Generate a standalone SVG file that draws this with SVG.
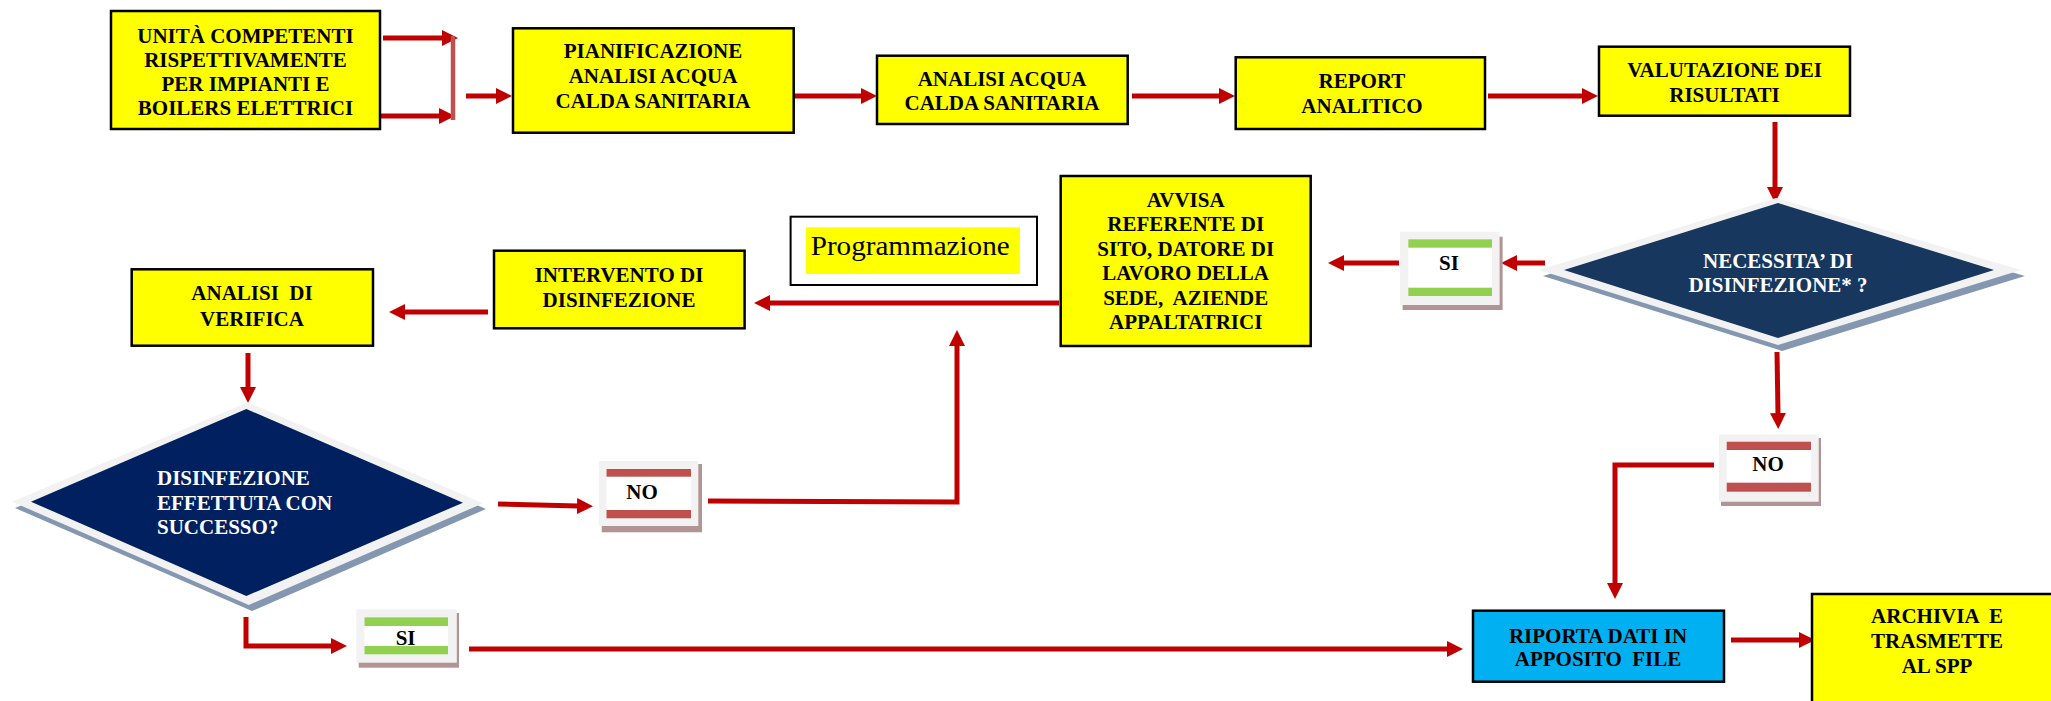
<svg xmlns="http://www.w3.org/2000/svg" width="2051" height="701" viewBox="0 0 2051 701">
<style>
.box{fill:#ffff00;stroke:#000;stroke-width:2.5}
.blue{fill:#00b0f0;stroke:#000;stroke-width:2.5}
.t{font-family:"Liberation Serif","Times New Roman",serif;font-weight:bold;font-size:21px;fill:#000;text-anchor:middle}
.w{fill:#fff}
.c{fill:none;stroke:#c00000;stroke-width:5}
.lblo{fill:#f2f2f2}
.lbls{fill:#b39494}
.lbli{fill:#fff}
.g{fill:#92d050}
.r{fill:#c0504d}
</style>
<defs>
<marker id="ah" viewBox="0 0 16 16" refX="1" refY="8" markerWidth="16" markerHeight="16" markerUnits="userSpaceOnUse" orient="auto">
<path d="M0,0 L16,8 L0,16 z" fill="#c00000"/>
</marker>
</defs>
<rect width="2051" height="701" fill="#fff"/>

<g id="connectors">
<line class="c" x1="383" y1="38" x2="443" y2="38" marker-end="url(#ah)"/>
<line class="c" x1="380" y1="116" x2="440" y2="116" marker-end="url(#ah)"/>
<line x1="453" y1="36" x2="453" y2="120" stroke="#c0504d" stroke-width="4.5"/>
<line class="c" x1="466" y1="96" x2="497" y2="96" marker-end="url(#ah)"/>
<line class="c" x1="794" y1="96" x2="862" y2="96" marker-end="url(#ah)"/>
<line class="c" x1="1132" y1="96" x2="1220" y2="96" marker-end="url(#ah)"/>
<line class="c" x1="1488" y1="96" x2="1583" y2="96" marker-end="url(#ah)"/>
<line class="c" x1="1775" y1="122" x2="1775" y2="188" marker-end="url(#ah)"/>
<line class="c" x1="1545" y1="263" x2="1516" y2="263" marker-end="url(#ah)"/>
<line class="c" x1="1399" y1="263" x2="1343" y2="263" marker-end="url(#ah)"/>
<line class="c" x1="1059" y1="303" x2="769" y2="303" marker-end="url(#ah)"/>
<line class="c" x1="488" y1="312" x2="404" y2="312" marker-end="url(#ah)"/>
<line class="c" x1="248" y1="353" x2="248" y2="388" marker-end="url(#ah)"/>
<line class="c" x1="498" y1="504" x2="578" y2="506" marker-end="url(#ah)"/>
<polyline class="c" points="708,501 957,502 957,345" marker-end="url(#ah)"/>
<polyline class="c" points="246,617 246,646 332,646" marker-end="url(#ah)"/>
<line class="c" x1="469" y1="649" x2="1448" y2="649" marker-end="url(#ah)"/>
<line class="c" x1="1731" y1="640" x2="1800" y2="640" marker-end="url(#ah)"/>
<line class="c" x1="1777" y1="352" x2="1778" y2="414" marker-end="url(#ah)"/>
<polyline class="c" points="1714,465 1615,465 1615,584" marker-end="url(#ah)"/>
</g>

<g id="unita">
<rect class="box" x="111" y="11" width="269" height="118"/>
<text class="t" x="245.5" y="42.7">UNITÀ COMPETENTI</text>
<text class="t" x="245.5" y="66.7">RISPETTIVAMENTE</text>
<text class="t" x="245.5" y="90.7">PER IMPIANTI E</text>
<text class="t" x="245.5" y="115">BOILERS ELETTRICI</text>
</g>

<g id="pianificazione">
<rect class="box" x="513" y="28.3" width="280.7" height="104.4"/>
<text class="t" x="653" y="58.3">PIANIFICAZIONE</text>
<text class="t" x="653" y="83.3">ANALISI ACQUA</text>
<text class="t" x="653" y="108.3">CALDA SANITARIA</text>
</g>

<g id="analisi-acqua">
<rect class="box" x="877" y="55.7" width="250.7" height="68.3"/>
<text class="t" x="1002" y="86">ANALISI ACQUA</text>
<text class="t" x="1002" y="110">CALDA SANITARIA</text>
</g>

<g id="report">
<rect class="box" x="1235.7" y="57.3" width="249.3" height="71.7"/>
<text class="t" x="1362" y="88">REPORT</text>
<text class="t" x="1362" y="112.7">ANALITICO</text>
</g>

<g id="valutazione">
<rect class="box" x="1599" y="46.7" width="251" height="69"/>
<text class="t" x="1724.5" y="77">VALUTAZIONE DEI</text>
<text class="t" x="1724.5" y="101.7">RISULTATI</text>
</g>

<g id="necessita">
<polygon points="1543,276 1780,204 2025,276 1782,351" fill="#8497b0"/>
<polygon points="1539,270 1776,198 2021,270 1778,345" fill="#f2f2f2"/>
<polygon points="1564,270 1778,203 1994,270 1778,338" fill="#17375e"/>
<text class="t w" x="1778" y="268">NECESSITA’ DI</text>
<text class="t w" x="1778" y="291.7">DISINFEZIONE* ?</text>
</g>

<g id="si-top">
<rect class="lbls" x="1402.6" y="236.7" width="100" height="73.3"/>
<rect class="lblo" x="1400" y="231.7" width="99.6" height="73.3"/>
<rect class="lbli" x="1408.3" y="239.3" width="83.7" height="56.7"/>
<rect class="g" x="1408.3" y="239.3" width="83.7" height="8.4"/>
<rect class="g" x="1408.3" y="287.7" width="83.7" height="8.3"/>
<text class="t" x="1449" y="270">SI</text>
</g>

<g id="avvisa">
<rect class="box" x="1060.7" y="176" width="250" height="170"/>
<text class="t" x="1185.7" y="206.7">AVVISA</text>
<text class="t" x="1185.7" y="231">REFERENTE DI</text>
<text class="t" x="1185.7" y="255.7">SITO, DATORE DI</text>
<text class="t" x="1185.7" y="280">LAVORO DELLA</text>
<text class="t" x="1185.7" y="305" xml:space="preserve">SEDE,  AZIENDE</text>
<text class="t" x="1185.7" y="329.3">APPALTATRICI</text>
</g>

<g id="programmazione">
<rect x="790.6" y="216.7" width="246.4" height="68.3" fill="#fff" stroke="#000" stroke-width="2"/>
<rect x="805.8" y="227.3" width="214.2" height="46.7" fill="#ffff00"/>
<text x="810.7" y="255" font-family="Liberation Serif, Times New Roman, serif" font-size="28" fill="#000" textLength="199" lengthAdjust="spacingAndGlyphs">Programmazione</text>
</g>

<g id="intervento">
<rect class="box" x="494" y="250.7" width="250.6" height="77.6"/>
<text class="t" x="619" y="281.7">INTERVENTO DI</text>
<text class="t" x="619" y="306.7">DISINFEZIONE</text>
</g>

<g id="analisi-verifica">
<rect class="box" x="131.7" y="269.3" width="241.3" height="76.4"/>
<text class="t" x="252" y="300" xml:space="preserve">ANALISI  DI</text>
<text class="t" x="252" y="326">VERIFICA</text>
</g>

<g id="disinfezione-effettuata">
<polygon points="15,508 251,408 486,509 252,611" fill="#8497b0"/>
<polygon points="12,501.7 247.8,402.3 483,503.3 248.7,605" fill="#f2f2f2"/>
<polygon points="31,501.7 246.3,409 463,502.7 246.3,596" fill="#002060"/>
<text class="t w" x="157" y="485" text-anchor="start" style="text-anchor:start">DISINFEZIONE</text>
<text class="t w" x="157" y="510" style="text-anchor:start">EFFETTUTA CON</text>
<text class="t w" x="157" y="534" style="text-anchor:start">SUCCESSO?</text>
</g>

<g id="no-left">
<rect class="lbls" x="601.7" y="464" width="100.3" height="68.3"/>
<rect class="lblo" x="598.8" y="461" width="99.5" height="65"/>
<rect class="lbli" x="606.5" y="469" width="84.5" height="49.3"/>
<rect class="r" x="606.5" y="469" width="84.5" height="7.7"/>
<rect class="r" x="606.5" y="510" width="84.5" height="8.3"/>
<text class="t" x="642" y="499">NO</text>
</g>

<g id="si-bottom">
<rect class="lbls" x="358.7" y="613" width="100.3" height="54.7"/>
<rect class="lblo" x="356.3" y="609.3" width="100.5" height="53.4"/>
<rect class="lbli" x="364.5" y="617.3" width="83.5" height="37"/>
<rect class="g" x="364.5" y="617.3" width="83.5" height="8.7"/>
<rect class="g" x="364.5" y="646" width="83.5" height="8.3"/>
<text class="t" x="405.6" y="645">SI</text>
</g>

<g id="no-right">
<rect class="lbls" x="1721" y="438" width="100" height="68"/>
<rect class="lblo" x="1719" y="434.3" width="99.7" height="67.4"/>
<rect class="lbli" x="1726.7" y="441.7" width="84.3" height="50"/>
<rect class="r" x="1726.7" y="441.7" width="84.3" height="8.3"/>
<rect class="r" x="1726.7" y="482.7" width="84.3" height="9"/>
<text class="t" x="1768" y="470.7">NO</text>
</g>

<g id="riporta">
<rect class="blue" x="1473" y="610.7" width="251" height="71"/>
<text class="t" x="1598" y="642.7">RIPORTA DATI IN</text>
<text class="t" x="1598" y="666" xml:space="preserve">APPOSITO  FILE</text>
</g>

<g id="archivia">
<rect class="box" x="1812" y="594" width="270" height="130"/>
<text class="t" x="1937" y="623.3" xml:space="preserve">ARCHIVIA  E</text>
<text class="t" x="1937" y="648.3">TRASMETTE</text>
<text class="t" x="1937" y="673.3">AL SPP</text>
</g>
</svg>
